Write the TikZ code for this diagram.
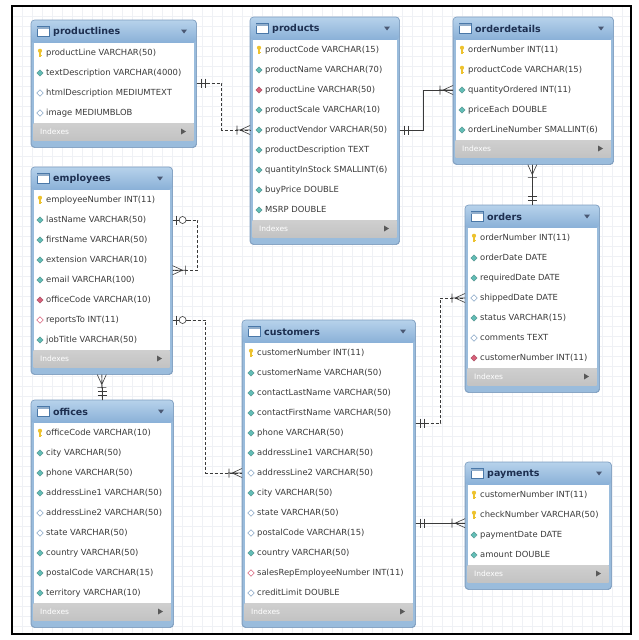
\documentclass[tikz,border=0pt]{standalone}
\usepackage{fontspec}
\setmainfont{DejaVu Sans}
\usetikzlibrary{calc}
\definecolor{hdtop}{HTML}{B7D2EB}
\definecolor{hdbot}{HTML}{89B0D7}
\definecolor{frameblue}{HTML}{9ABCDC}
\definecolor{edgeblue}{HTML}{7E9EC0}
\definecolor{ftgrey}{HTML}{C3C3C3}
\definecolor{titlec}{HTML}{1D2F50}
\definecolor{rowc}{HTML}{3A3A3A}
\definecolor{keyc}{HTML}{EDC22E}
\definecolor{nnc}{HTML}{63BDB6}
\definecolor{nullc}{HTML}{86A5C6}
\definecolor{fkc}{HTML}{D8607A}
\definecolor{linec}{HTML}{3A3A3A}
\definecolor{gridc}{HTML}{EFF1F5}
\definecolor{iconb}{HTML}{4A78A8}

\tikzset{
  tblbox/.style={draw=edgeblue, fill=frameblue, rounded corners=3.5pt, inner sep=0pt, line width=0.6pt},
  titletext/.style={font=\bfseries\fontsize{9.5}{10}\selectfont, text=titlec, inner sep=0pt, anchor=west},
  rowtext/.style={font=\fontsize{8.4}{9}\selectfont, text=rowc, inner sep=0pt, minimum height=20pt, text height=6pt, text depth=1.5pt, anchor=west},
  foottext/.style={font=\fontsize{7.5}{8}\selectfont, text=white, inner sep=0pt, anchor=west},
  rel/.style={draw=linec, line width=0.6pt},
  reldash/.style={rel, dash pattern=on 3pt off 2pt},
  crow/.pic={\draw[rel] (0,0) -- (14,0) (10,0) -- (0,-4.5) (10,0) -- (0,4.5) (13,-4.5) -- (13,4.5);},
  onlyone/.pic={\draw[rel] (0,0) -- (13,0) (5,-4.5) -- (5,4.5) (9,-4.5) -- (9,4.5);},
  zeroone/.pic={\draw[rel] (0,0) -- (17,0) (3.5,-4.5) -- (3.5,4.5); \draw[rel, fill=white] (10,0) circle (3.5);},
}

\newcommand\icondia[3]{\filldraw[#3] (#1,#2-3.2) -- (#1+3.2,#2) -- (#1,#2+3.2) -- (#1-3.2,#2) -- cycle;}
\newcommand\iconk[2]{\fill[keyc] (#1,#2-2.2) circle (2.1); \fill[keyc] (#1-0.8,#2-1) rectangle (#1+0.8,#2+4); \fill[keyc] (#1,#2+2) rectangle (#1+2,#2+3);}
\newcommand\iconn[2]{\icondia{#1}{#2}{fill=nnc, draw=nnc!75!black, line width=0.3pt}}
\newcommand\icono[2]{\icondia{#1}{#2}{fill=white, draw=nullc, line width=0.5pt}}
\newcommand\iconf[2]{\icondia{#1}{#2}{fill=fkc, draw=fkc!75!black, line width=0.3pt}}
\newcommand\icong[2]{\icondia{#1}{#2}{fill=white, draw=fkc, line width=0.5pt}}

% #1 id, #2 left, #3 top, #4 width, #5 rows, #6 title, #7 row list
\newcommand\ertable[7]{%
  \pgfmathsetmacro\tH{47+20*#5}%
  \pgfmathsetmacro\tFt{#3+23+20*#5}%
  \node[tblbox, minimum width=#4pt, minimum height=\tH pt, anchor=north west] (#1) at (#2,#3) {};
  \shade[top color=hdtop, bottom color=hdbot, rounded corners=3.5pt] (#2,#3) rectangle (#2+#4,#3+23);
  \fill[white] (#2+2.5,#3+23) rectangle (#2+#4-2.5,\tFt);
  \shade[top color=ftgrey!80, bottom color=ftgrey] (#2+2.5,\tFt) rectangle (#2+#4-2.5,\tFt+17);
  \draw[edgeblue, line width=0.6pt, rounded corners=3.5pt] (#1.north west) rectangle (#1.south east);
  % header icon
  \fill[white] (#2+6,#3+6.5) rectangle (#2+18,#3+16.5);
  \draw[iconb, line width=0.6pt] (#2+6,#3+6.5) rectangle (#2+18,#3+16.5);
  \fill[iconb!60] (#2+6,#3+6.5) rectangle (#2+18,#3+9);
  \node[titletext] at (#2+22,#3+12) {#6};
  \fill[titlec!80] (#2+#4-15,#3+9.5) -- (#2+#4-9,#3+9.5) -- (#2+#4-12,#3+13.5) -- cycle;
  \node[foottext] at (#2+9,\tFt+8.5) {Indexes};
  \fill[black!65] (#2+#4-15,\tFt+5.5) -- (#2+#4-10,\tFt+8.5) -- (#2+#4-15,\tFt+11.5) -- cycle;
  \foreach \ty/\tx [count=\ri] in {#7} {%
    \pgfmathsetmacro\ry{#3+13+20*\ri}%
    \csname icon\ty\endcsname{#2+9}{\ry}%
    \node[rowtext] (#1-\ri) at (#2+15,\ry) {\tx};
  }%
}

\begin{document}
\begin{tikzpicture}[x=1pt,y=-1pt]
\useasboundingbox (0,0) rectangle (638,640);
\fill[white] (0,0) rectangle (638,640);
% background grid
\foreach \gx in {22,32,...,622} \draw[gridc, line width=0.35pt] (\gx,7) -- (\gx,633);
\foreach \gy in {16,26,...,626} \draw[gridc, line width=0.35pt] (13,\gy) -- (630,\gy);

\ertable{pl}{31}{20}{165}{4}{productlines}{k/productLine VARCHAR(50),n/textDescription VARCHAR(4000),o/htmlDescription MEDIUMTEXT,o/image MEDIUMBLOB}
\ertable{pr}{250}{17}{149}{9}{products}{k/productCode VARCHAR(15),n/productName VARCHAR(70),f/productLine VARCHAR(50),n/productScale VARCHAR(10),n/productVendor VARCHAR(50),n/productDescription TEXT,n/quantityInStock SMALLINT(6),n/buyPrice DOUBLE,n/MSRP DOUBLE}
\ertable{od}{453}{17}{160}{5}{orderdetails}{k/orderNumber INT(11),k/productCode VARCHAR(15),n/quantityOrdered INT(11),n/priceEach DOUBLE,n/orderLineNumber SMALLINT(6)}
\ertable{em}{31}{167}{141}{8}{employees}{k/employeeNumber INT(11),n/lastName VARCHAR(50),n/firstName VARCHAR(50),n/extension VARCHAR(10),n/email VARCHAR(100),f/officeCode VARCHAR(10),g/reportsTo INT(11),n/jobTitle VARCHAR(50)}
\ertable{or}{465}{205}{134}{7}{orders}{k/orderNumber INT(11),n/orderDate DATE,n/requiredDate DATE,o/shippedDate DATE,n/status VARCHAR(15),o/comments TEXT,f/customerNumber INT(11)}
\ertable{of}{31}{400}{142}{9}{offices}{k/officeCode VARCHAR(10),n/city VARCHAR(50),n/phone VARCHAR(50),n/addressLine1 VARCHAR(50),o/addressLine2 VARCHAR(50),o/state VARCHAR(50),n/country VARCHAR(50),n/postalCode VARCHAR(15),n/territory VARCHAR(10)}
\ertable{cu}{242}{320}{173}{13}{customers}{k/customerNumber INT(11),n/customerName VARCHAR(50),n/contactLastName VARCHAR(50),n/contactFirstName VARCHAR(50),n/phone VARCHAR(50),n/addressLine1 VARCHAR(50),o/addressLine2 VARCHAR(50),n/city VARCHAR(50),o/state VARCHAR(50),o/postalCode VARCHAR(15),n/country VARCHAR(50),g/salesRepEmployeeNumber INT(11),o/creditLimit DOUBLE}
\ertable{pa}{465}{462}{146}{4}{payments}{k/customerNumber INT(11),k/checkNumber VARCHAR(50),n/paymentDate DATE,n/amount DOUBLE}

% connector end points
\coordinate (c1a) at (pl.east |- pl-2.south);
\coordinate (c1b) at (pr.west |- pr-5);
\coordinate (c2a) at (pr.east |- pr-5);
\coordinate (c2b) at (od.west |- od-3);
\coordinate (c3a) at (em.east |- em-2);
\coordinate (c3b) at (em.east |- em-4.south);
\coordinate (c5a) at (em.east |- em-7);
\coordinate (c5b) at (cu.west |- cu-7);
\coordinate (c6a) at (od.south -| or.north);
\coordinate (c7a) at (cu.east |- cu-4.south);
\coordinate (c7b) at (or.west |- or-4);
\coordinate (c8a) at (cu.east |- cu-9.south);
\coordinate (c8b) at (pa.west |- c8a);

% productlines - products
\draw[reldash] (c1a) -- ++(25,0) |- (c1b);
\pic at (c1a) {onlyone};
\pic[rotate=180] at (c1b) {crow};
% products - orderdetails
\draw[rel] (c2a) -- ++(24,0) |- (c2b);
\pic at (c2a) {onlyone};
\pic[rotate=180] at (c2b) {crow};
% employees self relation
\draw[reldash] (c3a) -- ++(25,0) |- (c3b);
\pic at (c3a) {zeroone};
\pic at (c3b) {crow};
% employees - offices
\draw[reldash] (em.south) -- (of.north);
\pic[rotate=-90] at (em.south) {crow};
\pic[rotate=90] at (of.north) {onlyone};
% employees - customers
\draw[reldash] (c5a) -- ++(33,0) |- (c5b);
\pic at (c5a) {zeroone};
\pic[rotate=180] at (c5b) {crow};
% orderdetails - orders
\draw[rel] (c6a) -- (or.north);
\pic[rotate=-90] at (c6a) {crow};
\pic[rotate=90] at (or.north) {onlyone};
% customers - orders
\draw[reldash] (c7a) -- ++(25,0) |- (c7b);
\pic at (c7a) {onlyone};
\pic[rotate=180] at (c7b) {crow};
% customers - payments
\draw[rel] (c8a) -- (c8b);
\pic at (c8a) {onlyone};
\pic[rotate=180] at (c8b) {crow};

% outer frame
\draw[black, line width=1.6pt] (12,6) rectangle (631,634);
\end{tikzpicture}
\end{document}
